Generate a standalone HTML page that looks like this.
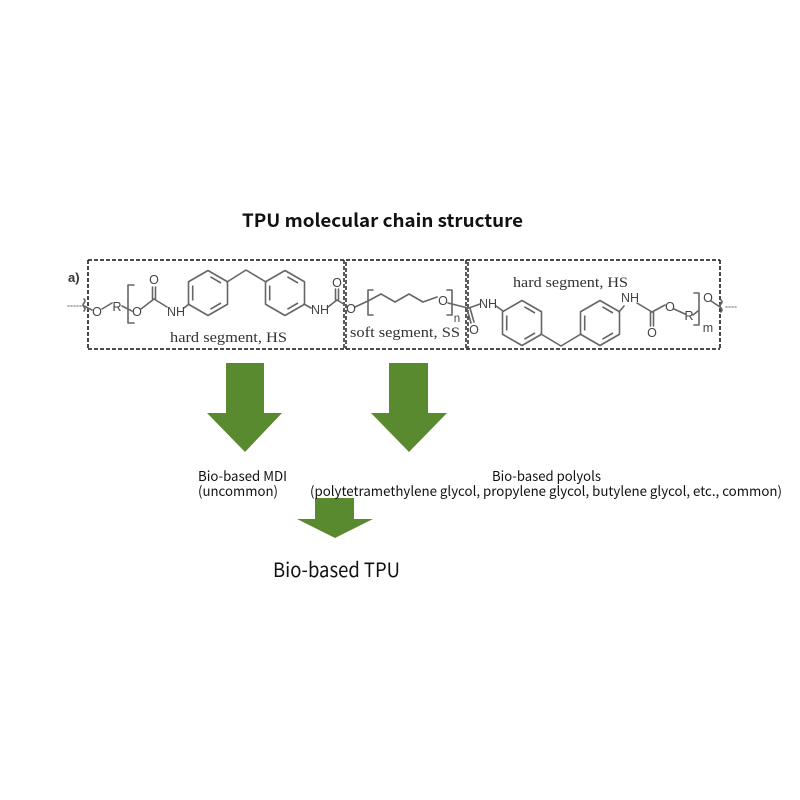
<!DOCTYPE html>
<html>
<head>
<meta charset="utf-8">
<style>
  html,body{margin:0;padding:0;background:#fff;}
  svg{display:block;}
</style>
</head>
<body>
<svg width="800" height="800" viewBox="0 0 800 800" xmlns="http://www.w3.org/2000/svg">
  <defs>
    <g id="ring" fill="none" stroke="#666" stroke-width="1.6" stroke-linejoin="round">
      <polygon points="0,-22.5 19.5,-11.25 19.5,11.25 0,22.5 -19.5,11.25 -19.5,-11.25"/>
      <line x1="-15.3" y1="-7.5" x2="-15.3" y2="7.5"/>
      <line x1="2.4" y1="-16.2" x2="13" y2="-10"/>
      <line x1="13" y1="10" x2="2.4" y2="16.2"/>
    </g>
  </defs>
  <rect width="800" height="800" fill="#fff"/>

  <!-- Title -->
  <text x="242" y="227" font-family="'Noto Sans CJK SC','Liberation Sans',sans-serif" font-weight="bold" font-size="18" fill="#111" textLength="281" lengthAdjust="spacingAndGlyphs">TPU molecular chain structure</text>

  <!-- Dashed boxes -->
  <g fill="none" stroke="#333" stroke-width="1.8" stroke-dasharray="4 2">
    <line x1="88" y1="260" x2="720" y2="260"/>
    <line x1="88" y1="349" x2="720" y2="349"/>
    <line x1="88" y1="260" x2="88" y2="349"/>
    <line x1="720" y1="260" x2="720" y2="349"/>
    <line x1="344" y1="260" x2="344" y2="349" stroke-width="1.6"/>
    <line x1="346" y1="262" x2="346" y2="349" stroke-width="1.6"/>
    <line x1="466" y1="260" x2="466" y2="349" stroke-width="1.6"/>
    <line x1="468" y1="262" x2="468" y2="349" stroke-width="1.6"/>
  </g>

  <!-- a) -->
  <text x="68" y="282" font-family="'Liberation Sans',sans-serif" font-weight="bold" font-size="13" fill="#333">a)</text>

  <!-- Chemistry lines -->
  <g fill="none" stroke="#666" stroke-width="1.6" stroke-linecap="round" stroke-linejoin="round">
    <line x1="68" y1="306" x2="81" y2="306" stroke-dasharray="1 2" stroke="#999"/>
    <path d="M84 299 q2 2 0 4 q-2 2 0 4 q2 2 0 4"/>
    <line x1="84" y1="306" x2="92" y2="310"/>
    <line x1="102" y1="309" x2="112" y2="303"/>
    <line x1="122" y1="306" x2="132" y2="311"/>
    <path d="M134 285 L128 285 L128 323 L134 323"/>
    <line x1="141" y1="309" x2="154" y2="299"/>
    <line x1="152.5" y1="299" x2="152.5" y2="287"/>
    <line x1="155.5" y1="299" x2="155.5" y2="287"/>
    <line x1="154" y1="299" x2="167" y2="307"/>
    <line x1="184" y1="308" x2="189" y2="304"/>
    <polyline points="227,282 246,270 266,282"/>
    <line x1="304" y1="304" x2="311" y2="308"/>
    <line x1="328" y1="307" x2="337" y2="300"/>
    <line x1="335.5" y1="300" x2="335.5" y2="289"/>
    <line x1="338.5" y1="300" x2="338.5" y2="289"/>
    <line x1="337" y1="300" x2="347" y2="306"/>
    <line x1="355" y1="307" x2="368" y2="301"/>
    <path d="M373 290 L368 290 L368 315 L373 315"/>
    <polyline points="368,301 381,294 395,302 409,294 423,302 437,297"/>
    <path d="M447 290 L452 290 L452 315 L447 315"/>
    <line x1="448" y1="303" x2="468" y2="308"/>
    <line x1="467" y1="309" x2="471" y2="323"/>
    <line x1="470" y1="308" x2="474" y2="322"/>
    <line x1="469" y1="308" x2="480" y2="304"/>
    <line x1="496" y1="306" x2="503" y2="311"/>
    <polyline points="541,334 561,346 581,334"/>
    <line x1="619" y1="312" x2="624" y2="306"/>
    <line x1="637" y1="303" x2="652" y2="312"/>
    <line x1="650.5" y1="312" x2="650.5" y2="326"/>
    <line x1="653.5" y1="312" x2="653.5" y2="326"/>
    <line x1="652" y1="312" x2="665" y2="305"/>
    <line x1="674" y1="309" x2="685" y2="314"/>
    <line x1="693" y1="315" x2="698" y2="311"/>
    <path d="M694 293 L699 293 L699 325 L694 325"/>
    <line x1="711" y1="301" x2="720" y2="307"/>
    <path d="M721 300 q2 2 0 4 q-2 2 0 4 q2 2 0 4"/>
    <line x1="726" y1="307" x2="736" y2="307" stroke-dasharray="1 2" stroke="#999"/>
  </g>

  <use href="#ring" x="208" y="293"/>
  <use href="#ring" x="285" y="293"/>
  <use href="#ring" x="522" y="323"/>
  <use href="#ring" x="600" y="323"/>

  <!-- Chemistry text -->
  <g font-family="'Liberation Sans',sans-serif" font-size="12.5" fill="#444" text-anchor="middle">
    <text x="97" y="316">O</text>
    <text x="117" y="311">R</text>
    <text x="137" y="316">O</text>
    <text x="154" y="284">O</text>
    <text x="176" y="316">NH</text>
    <text x="320" y="314">NH</text>
    <text x="337" y="287">O</text>
    <text x="351" y="313">O</text>
    <text x="443" y="305">O</text>
    <text x="457" y="322" font-size="11.5">n</text>
    <text x="474" y="334">O</text>
    <text x="488" y="308">NH</text>
    <text x="630" y="302">NH</text>
    <text x="652" y="337">O</text>
    <text x="670" y="311">O</text>
    <text x="689" y="320">R</text>
    <text x="708" y="302">O</text>
    <text x="708" y="332">m</text>
  </g>

  <!-- Segment labels -->
  <g font-family="'Liberation Serif',serif" font-size="15" fill="#333">
    <text x="170" y="342" textLength="117" lengthAdjust="spacingAndGlyphs">hard segment, HS</text>
    <text x="350" y="337" textLength="110" lengthAdjust="spacingAndGlyphs">soft segment, SS</text>
    <text x="513" y="287" textLength="115" lengthAdjust="spacingAndGlyphs">hard segment, HS</text>
  </g>

  <!-- Arrows -->
  <g fill="#5a8a30">
    <polygon points="226,363 264,363 264,413 282,413 245,452 207,413 226,413"/>
    <polygon points="389,363 428,363 428,413 447,413 409,452 371,413 389,413"/>
    <polygon points="315,498 354,498 354,519 373,519 335,538 297,519 315,519"/>
  </g>

  <!-- Labels -->
  <g font-family="'Noto Sans CJK SC','Liberation Sans',sans-serif" fill="#111">
    <text x="198" y="481" font-size="13.5" textLength="89" lengthAdjust="spacingAndGlyphs">Bio-based MDI</text>
    <text x="198" y="496" font-size="13.5" textLength="80" lengthAdjust="spacingAndGlyphs">(uncommon)</text>
    <text x="492" y="481" font-size="13.5" textLength="109" lengthAdjust="spacingAndGlyphs">Bio-based polyols</text>
    <text x="310" y="496" font-size="13.5" textLength="472" lengthAdjust="spacingAndGlyphs">(polytetramethylene glycol, propylene glycol, butylene glycol, etc., common)</text>
    <text x="273" y="577" font-size="20" textLength="127" lengthAdjust="spacingAndGlyphs">Bio-based TPU</text>
  </g>
</svg>
</body>
</html>
